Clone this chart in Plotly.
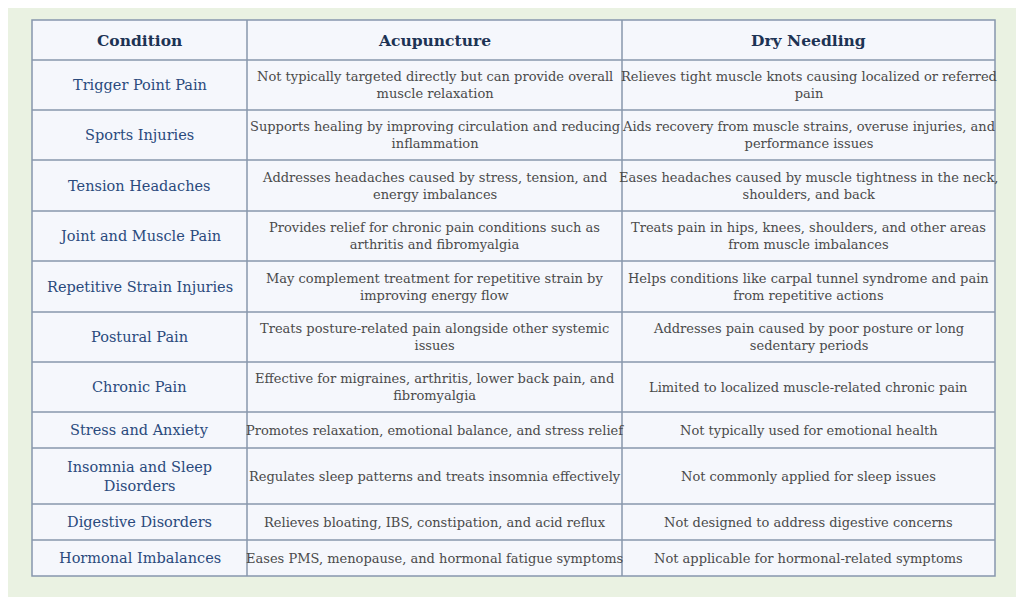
import plotly.graph_objects as go

headers = ["Condition", "Acupuncture", "Dry Needling"]

conditions = [
    "Trigger Point Pain", "Sports Injuries", "Tension Headaches", "Joint and Muscle Pain",
    "Repetitive Strain Injuries", "Postural Pain", "Chronic Pain", "Stress and Anxiety",
    "Insomnia and Sleep<br>Disorders", "Digestive Disorders", "Hormonal Imbalances",
]

acupuncture = [
    "Not typically targeted directly but can provide overall<br>muscle relaxation",
    "Supports healing by improving circulation and reducing<br>inflammation",
    "Addresses headaches caused by stress, tension, and<br>energy imbalances",
    "Provides relief for chronic pain conditions such as<br>arthritis and fibromyalgia",
    "May complement treatment for repetitive strain by<br>improving energy flow",
    "Treats posture-related pain alongside other systemic<br>issues",
    "Effective for migraines, arthritis, lower back pain, and<br>fibromyalgia",
    "Promotes relaxation, emotional balance, and stress relief",
    "Regulates sleep patterns and treats insomnia effectively",
    "Relieves bloating, IBS, constipation, and acid reflux",
    "Eases PMS, menopause, and hormonal fatigue symptoms",
]

dry_needling = [
    "Relieves tight muscle knots causing localized or referred<br>pain",
    "Aids recovery from muscle strains, overuse injuries, and<br>performance issues",
    "Eases headaches caused by muscle tightness in the neck,<br>shoulders, and back",
    "Treats pain in hips, knees, shoulders, and other areas<br>from muscle imbalances",
    "Helps conditions like carpal tunnel syndrome and pain<br>from repetitive actions",
    "Addresses pain caused by poor posture or long<br>sedentary periods",
    "Limited to localized muscle-related chronic pain",
    "Not typically used for emotional health",
    "Not commonly applied for sleep issues",
    "Not designed to address digestive concerns",
    "Not applicable for hormonal-related symptoms",
]

# layout of the grid (pixels)
col_edges = [32, 247, 622, 995]
row_heights = [40, 50, 50, 51, 50, 51, 50, 50, 36, 56, 36, 36]
top = 20

border = "#8797ad"
cell_bg = "#f5f7fc"

row_edges = [top]
for h in row_heights:
    row_edges.append(row_edges[-1] + h)

fig = go.Figure()

# table background and grid lines
fig.add_shape(type="rect", x0=col_edges[0], x1=col_edges[-1], y0=row_edges[0], y1=row_edges[-1],
              fillcolor=cell_bg, line=dict(color=border, width=1.5), layer="below")
for x in col_edges[1:-1]:
    fig.add_shape(type="line", x0=x, x1=x, y0=row_edges[0], y1=row_edges[-1],
                  line=dict(color=border, width=1.5))
for y in row_edges[1:-1]:
    fig.add_shape(type="line", x0=col_edges[0], x1=col_edges[-1], y0=y, y1=y,
                  line=dict(color=border, width=1.5))

centers = [(col_edges[i] + col_edges[i + 1]) / 2 for i in range(3)]

def put(text, col, row, font):
    fig.add_annotation(x=centers[col], y=(row_edges[row] + row_edges[row + 1]) / 2,
                       text=text, showarrow=False, align="center",
                       xanchor="center", yanchor="middle", font=font)

for c, h in enumerate(headers):
    put("<b>" + h + "</b>", c, 0, dict(family="DejaVu Serif", size=15.5, color="#1d3354"))

body_font = dict(family="DejaVu Serif", size=13, color="#4a4a4a")
for r in range(len(conditions)):
    put(conditions[r], 0, r + 1, dict(family="DejaVu Serif", size=14.5, color="#2a4a7c"))
    put(acupuncture[r], 1, r + 1, body_font)
    put(dry_needling[r], 2, r + 1, body_font)

fig.update_xaxes(range=[8, 1032], visible=False, fixedrange=True)
fig.update_yaxes(range=[605, 8], visible=False, fixedrange=True)
fig.update_layout(
    width=1024, height=597,
    margin=dict(l=0, r=0, t=0, b=0),
    paper_bgcolor="#eaf2e2",
    plot_bgcolor="#eaf2e2",
)

fig.write_html("out.html")
